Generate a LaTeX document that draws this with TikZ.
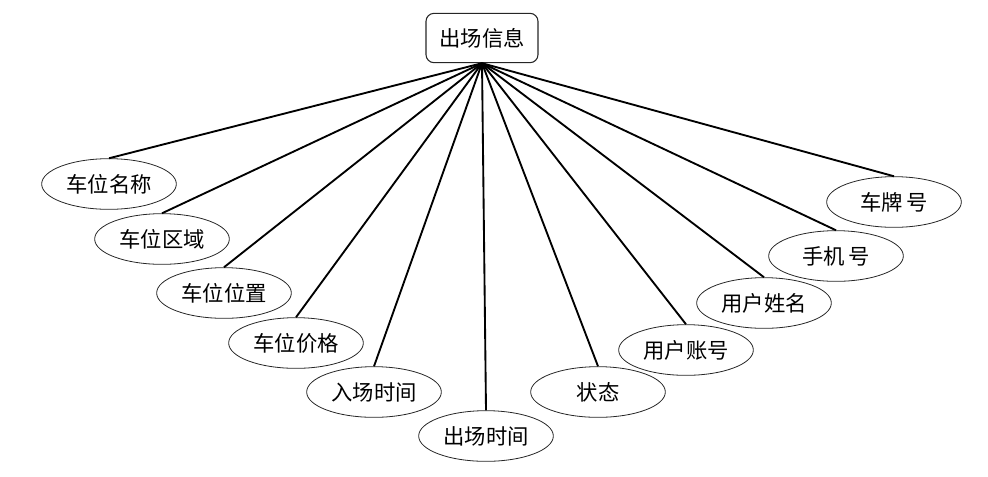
\documentclass[tikz,border=0pt]{standalone}
\usepackage{fontspec}
\setmainfont{Noto Sans CJK SC}
\usetikzlibrary{shapes.geometric}

\begin{document}
\begin{tikzpicture}[
  x=0.75pt, y=-0.75pt,
  font=\fontsize{16}{19}\selectfont,
  entity/.style={draw=black!85, rounded corners=6pt, line width=0.8pt,
    minimum width=84pt, minimum height=37pt, inner sep=2pt},
  attr/.style={draw=black!85, ellipse, line width=0.6pt,
    minimum width=101pt, minimum height=38pt, inner sep=0pt},
  link/.style={line width=1.4pt, draw=black}
]
\useasboundingbox (0,0) rectangle (988,476);
\node[entity] (exit) at (482,38) {出场信息};

\node[attr] (slotname) at (109,184) {车位名称};
\node[attr] (slotarea) at (162,239) {车位区域};
\node[attr] (slotpos) at (224,293) {车位位置};
\node[attr] (slotprice) at (296,343) {车位价格};
\node[attr] (intime) at (374,392) {入场时间};
\node[attr] (outtime) at (486,436) {出场时间};
\node[attr] (state) at (598,392) {状态};
\node[attr] (account) at (686,350) {用户账号};
\node[attr] (username) at (764,303) {用户姓名};
\node[attr] (phone) at (836,256) {手机\,号};
\node[attr] (plate) at (894,202) {车牌\,号};

\foreach \a in {slotname,slotarea,slotpos,slotprice,intime,outtime,
  state,account,username,phone,plate}
  \draw[link] (exit.south) -- (\a.north);
\end{tikzpicture}
\end{document}
